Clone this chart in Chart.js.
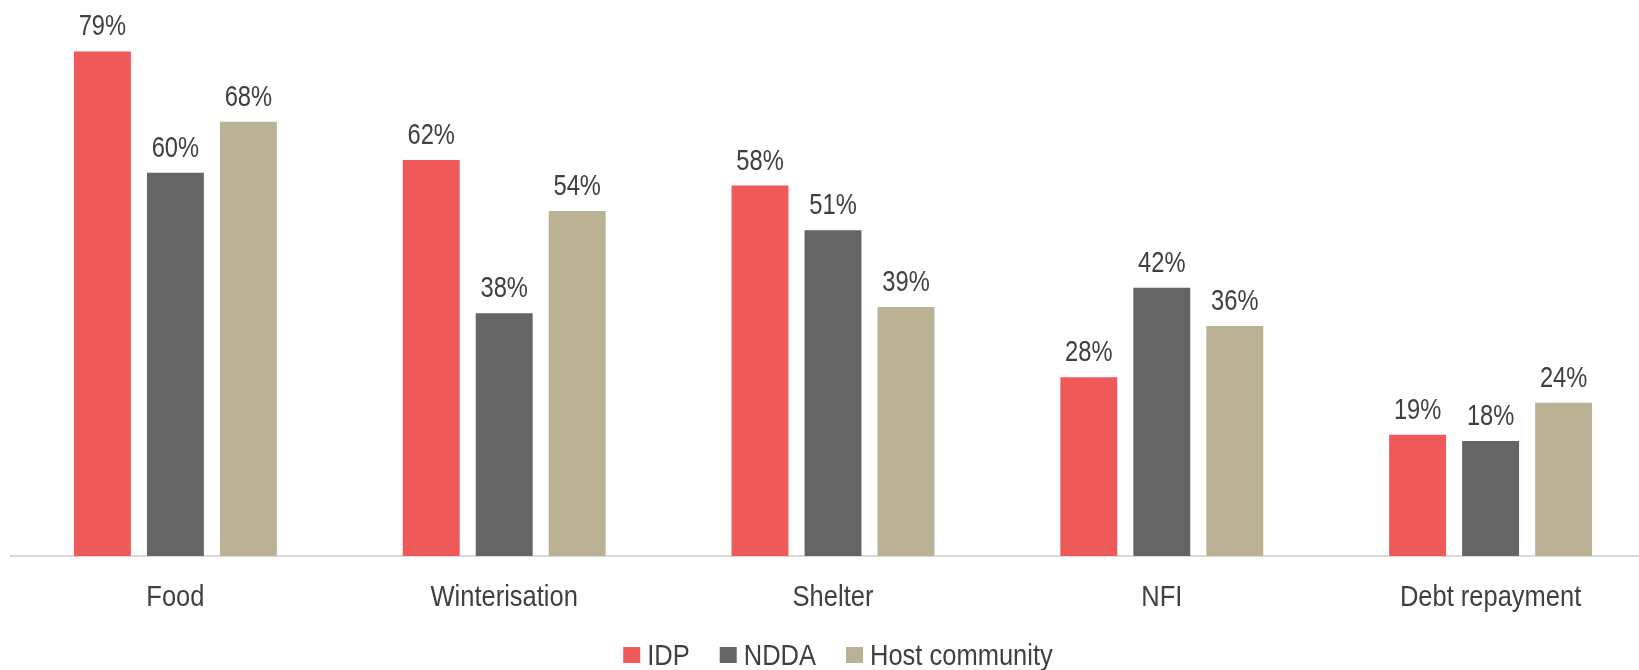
<!DOCTYPE html>
<html lang="en">
<head>
  <meta charset="UTF-8">
  <title>Needs by population group</title>
  <script src="https://cdn.jsdelivr.net/npm/chart.js"></script>
  <style>
    html, body { margin: 0; padding: 0; background: #fff; overflow: hidden; }
    #wrap { width: 1660px; height: 670px; }
  </style>
</head>
<body>
  <div id="wrap"><canvas id="needsChart" width="1660" height="670"></canvas></div>

  <script>
    const categories = ['Food', 'Winterisation', 'Shelter', 'NFI', 'Debt repayment'];
    const idp = [79, 62, 58, 28, 19];
    const ndda = [60, 38, 51, 42, 18];
    const host = [68, 54, 39, 36, 24];

    const fontFamily = '"Liberation Sans", Arial, sans-serif';
    const textColor = '#404040';

    // the original uses a narrow face, so squeeze the text horizontally
    function narrowText(c, text, x, y, align, squeeze) {
      c.save();
      c.translate(x, y);
      c.scale(squeeze, 1);
      c.textAlign = align;
      c.fillText(text, 0, 0);
      c.restore();
    }

    // value labels, category labels and legend
    const textLayer = {
      id: 'textLayer',
      afterDraw(chart) {
        const c = chart.ctx;
        c.save();
        c.fillStyle = textColor;
        c.textBaseline = 'alphabetic';
        c.font = '30px ' + fontFamily;

        // values above each bar
        chart.data.datasets.forEach((ds, i) => {
          chart.getDatasetMeta(i).data.forEach((bar, j) => {
            narrowText(c, ds.data[j] + '%', bar.x, bar.y - 16, 'center', 0.79);
          });
        });

        // category names under the axis
        const xs = chart.scales.x;
        chart.data.labels.forEach((lab, i) => {
          narrowText(c, lab, xs.getPixelForTick(i), xs.bottom + 50, 'center', 0.85);
        });

        // legend
        const box = 17, gapBox = 7, gapItem = 30, sq = 0.85;
        const items = chart.data.datasets.map(ds => ({
          text: ds.label,
          color: ds.backgroundColor,
          w: c.measureText(ds.label).width * sq
        }));
        let total = 0;
        items.forEach((it, k) => { total += box + gapBox + it.w + (k ? gapItem : 0); });
        const area = chart.chartArea;
        let x = (area.left + area.right) / 2 + 5 - total / 2;
        const baseY = 665;
        items.forEach(it => {
          c.fillStyle = it.color;
          c.fillRect(x, baseY - 18, box, box - 1);
          c.fillStyle = textColor;
          narrowText(c, it.text, x + box + gapBox, baseY, 'left', sq);
          x += box + gapBox + it.w + gapItem;
        });
        c.restore();
      }
    };

    const ctx = document.getElementById('needsChart').getContext('2d');
    new Chart(ctx, {
      type: 'bar',
      data: {
        labels: categories,
        datasets: [
          { label: 'IDP', data: idp, backgroundColor: '#EF5959' },
          { label: 'NDDA', data: ndda, backgroundColor: '#656565' },
          { label: 'Host community', data: host, backgroundColor: '#BBB195' }
        ]
      },
      options: {
        responsive: false,
        animation: false,
        categoryPercentage: 0.666,
        barPercentage: 0.78,
        layout: { padding: { left: 11, right: 5, top: 45, bottom: 114 } },
        plugins: {
          tooltip: { enabled: false },
          legend: { display: false }
        },
        scales: {
          x: {
            grid: { display: false, drawTicks: false },
            border: { display: true, color: '#D9D9D9', width: 2 },
            ticks: { display: false }
          },
          y: {
            display: false,
            min: 0,
            max: 80
          }
        }
      },
      plugins: [textLayer]
    });
  </script>
</body>
</html>
